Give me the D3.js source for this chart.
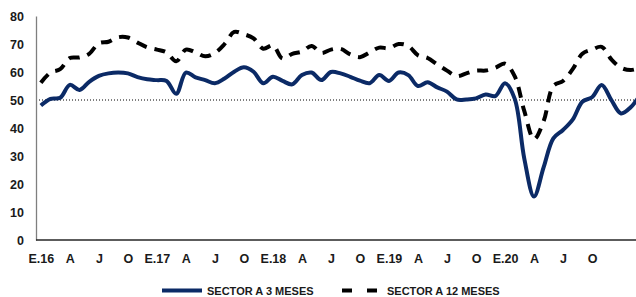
<!DOCTYPE html>
<html>
<head>
<meta charset="utf-8">
<script src="https://cdn.jsdelivr.net/npm/d3@7"></script>
<style>
  html, body { margin: 0; padding: 0; background: #fff; }
  svg { display: block; }
  text { font-family: "Liberation Sans", Arial, sans-serif; font-weight: bold; fill: #1a1a1a; }
</style>
</head>
<body>
<div id="chart"></div>
<script>
// ---- data (monthly, Jan 2016 ... Mar 2021) ----
const series3Name = "SECTOR A 3 MESES";
const series12Name = "SECTOR A 12 MESES";
const sector3 = [48, 50.4, 50.8, 55.4, 53.6, 56.5, 58.6, 59.5, 59.8, 59.5, 58.2, 57.4,
  57.1, 56.8, 52.2, 59.8, 58.1, 57.1, 56, 57.7, 60.1, 61.7, 60.1, 56,
  58.3, 56.8, 55.6, 58.9, 59.8, 57.1, 60, 59.5, 58.3, 56.9, 56, 58.9,
  56.8, 59.8, 58.9, 55, 56.3, 54.5, 53, 50.2, 50.2, 50.6, 52, 51.4,
  56, 50.5, 29, 15.5, 26, 36.3, 39.3, 43, 49.4, 51, 55.4, 50, 45.2,
  47.4, 52];
const sector12 = [56.2, 59.8, 61, 65, 65.2, 66.5, 70.3, 70.8, 72.4, 72.3, 70.5, 68.8,
  68, 67, 63.8, 68, 67, 65.6, 66.8, 70, 74.3, 73.5, 72, 68.3,
  69.5, 64.8, 66.5, 67.3, 69.3, 66.8, 68, 68.3, 66.3, 65.3, 67, 68.7,
  68.5, 70, 69.3, 66, 65, 62.7, 60.5, 58.5, 59.5, 60.5, 60.5, 61.5,
  63, 58.5, 46, 36, 42.5, 55, 56.8, 61, 66.5, 68, 69, 64.5, 61.5,
  60.7, 61.5];
const xTickLabels = ["E.16","A","J","O","E.17","A","J","O","E.18","A","J","O",
  "E.19","A","J","O","E.20","A","J","O"];
const yTicks = [0, 10, 20, 30, 40, 50, 60, 70, 80];
const threshold = 50;

// ---- layout ----
const W = 636, H = 297;
const plotL = 36, plotR = 636, plotT = 16, plotB = 240;
const step = 9.67;
const x = d3.scaleLinear().domain([0, sector3.length - 1])
  .range([plotL + step / 2, plotL + step / 2 + step * (sector3.length - 1)]);
const y = d3.scaleLinear().domain([0, 80]).range([plotB, plotT]);

const svg = d3.select("#chart").append("svg").attr("width", W).attr("height", H);

svg.append("defs").append("clipPath").attr("id", "clip")
  .append("rect").attr("x", plotL).attr("y", 0).attr("width", plotR - plotL).attr("height", H);

// y axis
const yAxis = svg.append("g").attr("transform", `translate(${plotL},0)`)
  .call(d3.axisLeft(y).tickValues(yTicks).tickSize(0).tickPadding(12));
yAxis.select(".domain").attr("stroke", "#7f7f7f").attr("stroke-width", 1.3);
yAxis.selectAll("text").attr("font-size", 12.5).attr("font-family", '"Liberation Sans", Arial, sans-serif')
  .attr("font-weight", "bold").attr("fill", "#1a1a1a");

// x axis
const tickIdx = xTickLabels.map((d, i) => i * 3);
const xAxis = svg.append("g").attr("transform", `translate(0,${plotB})`)
  .call(d3.axisBottom(x).tickValues(tickIdx).tickFormat((d, i) => xTickLabels[i]).tickSize(0).tickPadding(14));
xAxis.select(".domain").remove();
xAxis.selectAll("text").attr("font-size", 12.5).attr("font-family", '"Liberation Sans", Arial, sans-serif')
  .attr("font-weight", "bold").attr("fill", "#1a1a1a");
svg.append("line").attr("x1", plotL).attr("x2", plotR).attr("y1", y(0)).attr("y2", y(0))
  .attr("stroke", "#262626").attr("stroke-width", 1.5);

// threshold dotted line
svg.append("line").attr("x1", plotL + 3).attr("x2", plotR).attr("y1", y(threshold)).attr("y2", y(threshold))
  .attr("stroke", "#000").attr("stroke-width", 1).attr("stroke-dasharray", "1,2");

const g = svg.append("g").attr("clip-path", "url(#clip)");
const line = d3.line().x((d, i) => x(i)).y(d => y(d)).curve(d3.curveCatmullRom.alpha(0.5));

g.append("path").datum(sector12).attr("d", line).attr("fill", "none")
  .attr("stroke", "#000").attr("stroke-width", 4).attr("stroke-dasharray", "11,8");
g.append("path").datum(sector3).attr("d", line).attr("fill", "none")
  .attr("stroke", "#0b2a66").attr("stroke-width", 4).attr("stroke-linejoin", "round");

// legend
const lg = svg.append("g");
const ly = 290.5;
lg.append("line").attr("x1", 162).attr("x2", 202).attr("y1", ly).attr("y2", ly)
  .attr("stroke", "#0b2a66").attr("stroke-width", 4);
lg.append("text").attr("x", 207).attr("y", ly + 4).attr("font-size", 11).text(series3Name);
lg.append("line").attr("x1", 342).attr("x2", 377).attr("y1", ly).attr("y2", ly)
  .attr("stroke", "#000").attr("stroke-width", 4).attr("stroke-dasharray", "10,15");
lg.append("text").attr("x", 387).attr("y", ly + 4).attr("font-size", 11).text(series12Name);
</script>
</body>
</html>
